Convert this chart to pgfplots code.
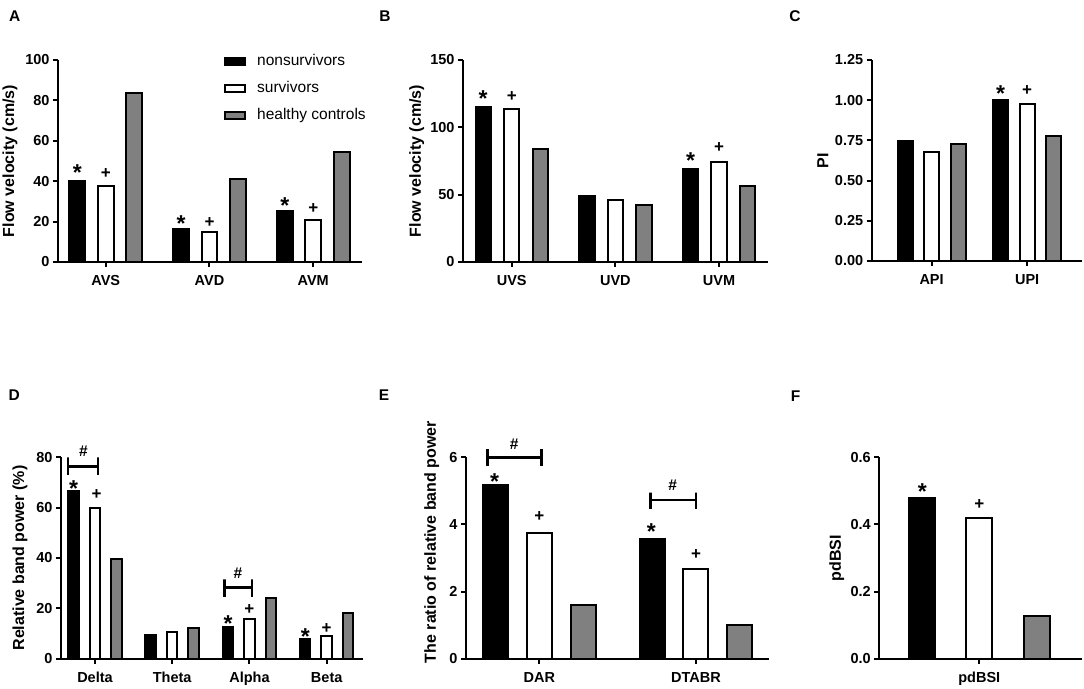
\documentclass[border=0pt]{standalone}
\usepackage{fontspec}
\setmainfont{Liberation Sans}
\usepackage{pgfplots}
\pgfplotsset{compat=1.18}
\definecolor{barGray}{gray}{0.5}
\pgfplotsset{
  panel/.style={
    scale only axis,
    anchor=south west,
    axis lines=left,
    axis line style={line width=2pt, -},
    ymin=0,
    tick align=outside,
    major tick length=5pt,
    tick style={line width=2pt, black},
    /pgf/number format/assume math mode=true,
    ticklabel style={font=\fontsize{14.5}{14.5}\selectfont\bfseries},
    xticklabel style={yshift=-5pt},
    ylabel style={font=\fontsize{16}{16}\selectfont\bfseries, anchor=center},
    clip=false,
  },
  nons/.style={ybar, fill=black, draw=black, line width=2pt,
    legend image code/.code={\draw[fill=black, draw=black, line width=2pt] (0pt,-3.5pt) rectangle (20pt,3.5pt);}},
  surv/.style={ybar, fill=white, draw=black, line width=2pt,
    legend image code/.code={\draw[fill=white, draw=black, line width=2pt] (0pt,-3.5pt) rectangle (20pt,3.5pt);}},
  hc/.style={ybar, fill=barGray, draw=black, line width=2pt,
    legend image code/.code={\draw[fill=barGray, draw=black, line width=2pt] (0pt,-3.5pt) rectangle (20pt,3.5pt);}},
  brk/.style={black, line width=2.5pt, mark=none},
}
\tikzset{
  ast/.style={font=\fontsize{23}{23}\selectfont\bfseries, yshift=-5pt},
  pls/.style={font=\fontsize{17}{17}\selectfont\bfseries},
  hsh/.style={font=\fontsize{15.5}{15.5}\selectfont\bfseries},
}
\newcommand{\pl}{\fontsize{15.5}{15.5}\selectfont\bfseries}
\begin{document}
\begin{tikzpicture}
\path[use as bounding box] (0pt,0pt) rectangle (1084pt,688pt);
\node[font=\pl] at (14.7pt,672.3pt) {A};
\node[font=\pl] at (385pt,672.3pt) {B};
\node[font=\pl] at (795pt,672.3pt) {C};
\node[font=\pl] at (14.3pt,293pt) {D};
\node[font=\pl] at (384pt,293pt) {E};
\node[font=\pl] at (795.5pt,292pt) {F};

% ---------- A ----------
\begin{axis}[panel, at={(58pt,426pt)}, width=304pt, height=202pt,
  xmin=-0.46, xmax=2.47, ymax=100, ytick={0,20,40,60,80,100},
  xtick={0,1,2}, xticklabels={AVS,AVD,AVM},
  ylabel={Flow velocity (cm/s)},
  ylabel style={at={(axis description cs:-0.158,0.5)}},
  legend style={at={(axis description cs:0.546,1.035)}, anchor=north west,
    draw=none, fill=none, inner sep=0pt, row sep=10.5pt,
    font=\fontsize{15.5}{15.5}\selectfont,
    nodes={inner sep=1pt, text height=11pt, text depth=3.5pt},
    /tikz/every odd column/.append style={column sep=10pt}},
  legend cell align=left]
\addplot[nons, bar width=15.7pt, bar shift=-28.5pt] coordinates {(0,40.3) (1,16.4) (2,25.3)};
\addplot[surv, bar width=15.7pt, bar shift=0pt] coordinates {(0,37.5) (1,14.7) (2,20.7)};
\addplot[hc, bar width=15.7pt, bar shift=28.5pt] coordinates {(0,83.5) (1,41.3) (2,54.5)};
\legend{nonsurvivors, survivors, healthy controls}
\node[ast] at (axis cs:-0.274,46.6) {*};
\node[pls] at (axis cs:0,43.8) {+};
\node[ast] at (axis cs:0.726,21.5) {*};
\node[pls] at (axis cs:1,19.7) {+};
\node[ast] at (axis cs:1.726,30.6) {*};
\node[pls] at (axis cs:2,26.4) {+};
\end{axis}

% ---------- B ----------
\begin{axis}[panel, at={(463pt,426pt)}, width=304.7pt, height=202pt,
  xmin=-0.47, xmax=2.47, ymax=150, ytick={0,50,100,150},
  xtick={0,1,2}, xticklabels={UVS,UVD,UVM},
  ylabel={Flow velocity (cm/s)},
  ylabel style={at={(axis description cs:-0.152,0.5)}}]
\addplot[nons, bar width=15.3pt, bar shift=-28.5pt] coordinates {(0,114.8) (1,49.3) (2,68.9)};
\addplot[surv, bar width=15.3pt, bar shift=0pt] coordinates {(0,113.8) (1,45.9) (2,74.1)};
\addplot[hc, bar width=15.3pt, bar shift=28.5pt] coordinates {(0,83.8) (1,42.2) (2,56.3)};
\node[ast] at (axis cs:-0.275,125.2) {*};
\node[pls] at (axis cs:0,122.7) {+};
\node[ast] at (axis cs:1.725,78.8) {*};
\node[pls] at (axis cs:2,84.8) {+};
\end{axis}

% ---------- C ----------
\begin{axis}[panel, at={(871.7pt,427pt)}, width=210pt, height=201pt,
  xmin=-0.627, xmax=1.571, ymax=1.25, ytick={0,0.25,0.5,0.75,1,1.25},
  yticklabels={0.00,0.25,0.50,0.75,1.00,1.25},
  xtick={0,1}, xticklabels={API,UPI},
  ylabel={PI},
  ylabel style={at={(axis description cs:-0.232,0.5)}}]
\addplot[nons, bar width=15pt, bar shift=-26.5pt] coordinates {(0,0.746) (1,1.0)};
\addplot[surv, bar width=15pt, bar shift=0pt] coordinates {(0,0.675) (1,0.977)};
\addplot[hc, bar width=15pt, bar shift=26.5pt] coordinates {(0,0.725) (1,0.775)};
\node[ast] at (axis cs:0.723,1.073) {*};
\node[pls] at (axis cs:1,1.0625) {+};
\end{axis}

% ---------- D ----------
\begin{axis}[panel, at={(61pt,29.3pt)}, width=302pt, height=201.4pt,
  xmin=-0.44, xmax=3.47, ymax=80, ytick={0,20,40,60,80},
  xtick={0,1,2,3}, xticklabels={Delta,Theta,Alpha,Beta},
  ylabel={Relative band power (\%)},
  ylabel style={at={(axis description cs:-0.136,0.5)}}]
\addplot[nons, bar width=10.5pt, bar shift=-21.5pt] coordinates {(0,66.8) (1,9.5) (2,12.7) (3,7.9)};
\addplot[surv, bar width=10.5pt, bar shift=0pt] coordinates {(0,59.9) (1,10.5) (2,15.8) (3,9.1)};
\addplot[hc, bar width=10.5pt, bar shift=21.5pt] coordinates {(0,39.7) (1,12.1) (2,24.2) (3,18.3)};
\addplot[brk] coordinates {(-0.35,73) (-0.35,80) (-0.35,76.3) (0.04,76.3) (0.04,80) (0.04,73)};
\addplot[brk] coordinates {(1.68,24.6) (1.68,31.5) (1.68,28.3) (2.03,28.3) (2.03,31.5) (2.03,24.6)};
\node[hsh] at (axis cs:-0.15,82.3) {\#};
\node[hsh] at (axis cs:1.85,33.9) {\#};
\node[ast] at (axis cs:-0.278,69.7) {*};
\node[pls] at (axis cs:0.02,65.4) {+};
\node[ast] at (axis cs:1.722,16) {*};
\node[pls] at (axis cs:2,19.6) {+};
\node[ast] at (axis cs:2.722,10.7) {*};
\node[pls] at (axis cs:3,12) {+};
\end{axis}

% ---------- E ----------
\begin{axis}[panel, at={(466pt,29.3pt)}, width=303.3pt, height=201.4pt,
  xmin=-0.468, xmax=1.468, ymax=6, ytick={0,2,4,6},
  xtick={0,1}, xticklabels={DAR,DTABR},
  ylabel={The ratio of relative band power},
  ylabel style={at={(axis description cs:-0.113,0.579)}}]
\addplot[nons, bar width=25pt, bar shift=-43.7pt] coordinates {(0,5.18) (1,3.56)};
\addplot[surv, bar width=25pt, bar shift=0pt] coordinates {(0,3.73) (1,2.68)};
\addplot[hc, bar width=25pt, bar shift=43.7pt] coordinates {(0,1.61) (1,0.99)};
\addplot[brk] coordinates {(-0.33,5.74) (-0.33,6.24) (-0.33,6.0) (0.015,6.0) (0.015,6.24) (0.015,5.74)};
\addplot[brk] coordinates {(0.71,4.45) (0.71,4.95) (0.71,4.73) (1.0,4.73) (1.0,4.95) (1.0,4.45)};
\node[hsh] at (axis cs:-0.16,6.4) {\#};
\node[hsh] at (axis cs:0.851,5.18) {\#};
\node[ast] at (axis cs:-0.285,5.44) {*};
\node[pls] at (axis cs:0,4.23) {+};
\node[ast] at (axis cs:0.715,3.93) {*};
\node[pls] at (axis cs:1,3.09) {+};
\end{axis}

% ---------- F ----------
\begin{axis}[panel, at={(879.3pt,29.3pt)}, width=202.4pt, height=201.4pt,
  xmin=-0.488, xmax=0.5, ymax=0.6, ytick={0,0.2,0.4,0.6},
  yticklabels={0.0,0.2,0.4,0.6},
  xtick={0}, xticklabels={pdBSI},
  ylabel={pdBSI},
  ylabel style={at={(axis description cs:-0.21,0.5)}}]
\addplot[nons, bar width=26.3pt, bar shift=-57pt] coordinates {(0,0.48)};
\addplot[surv, bar width=26.3pt, bar shift=0pt] coordinates {(0,0.418)};
\addplot[hc, bar width=26.3pt, bar shift=57.5pt] coordinates {(0,0.127)};
\node[ast] at (axis cs:-0.278,0.513) {*};
\node[pls] at (axis cs:0,0.458) {+};
\end{axis}
\end{tikzpicture}
\end{document}
